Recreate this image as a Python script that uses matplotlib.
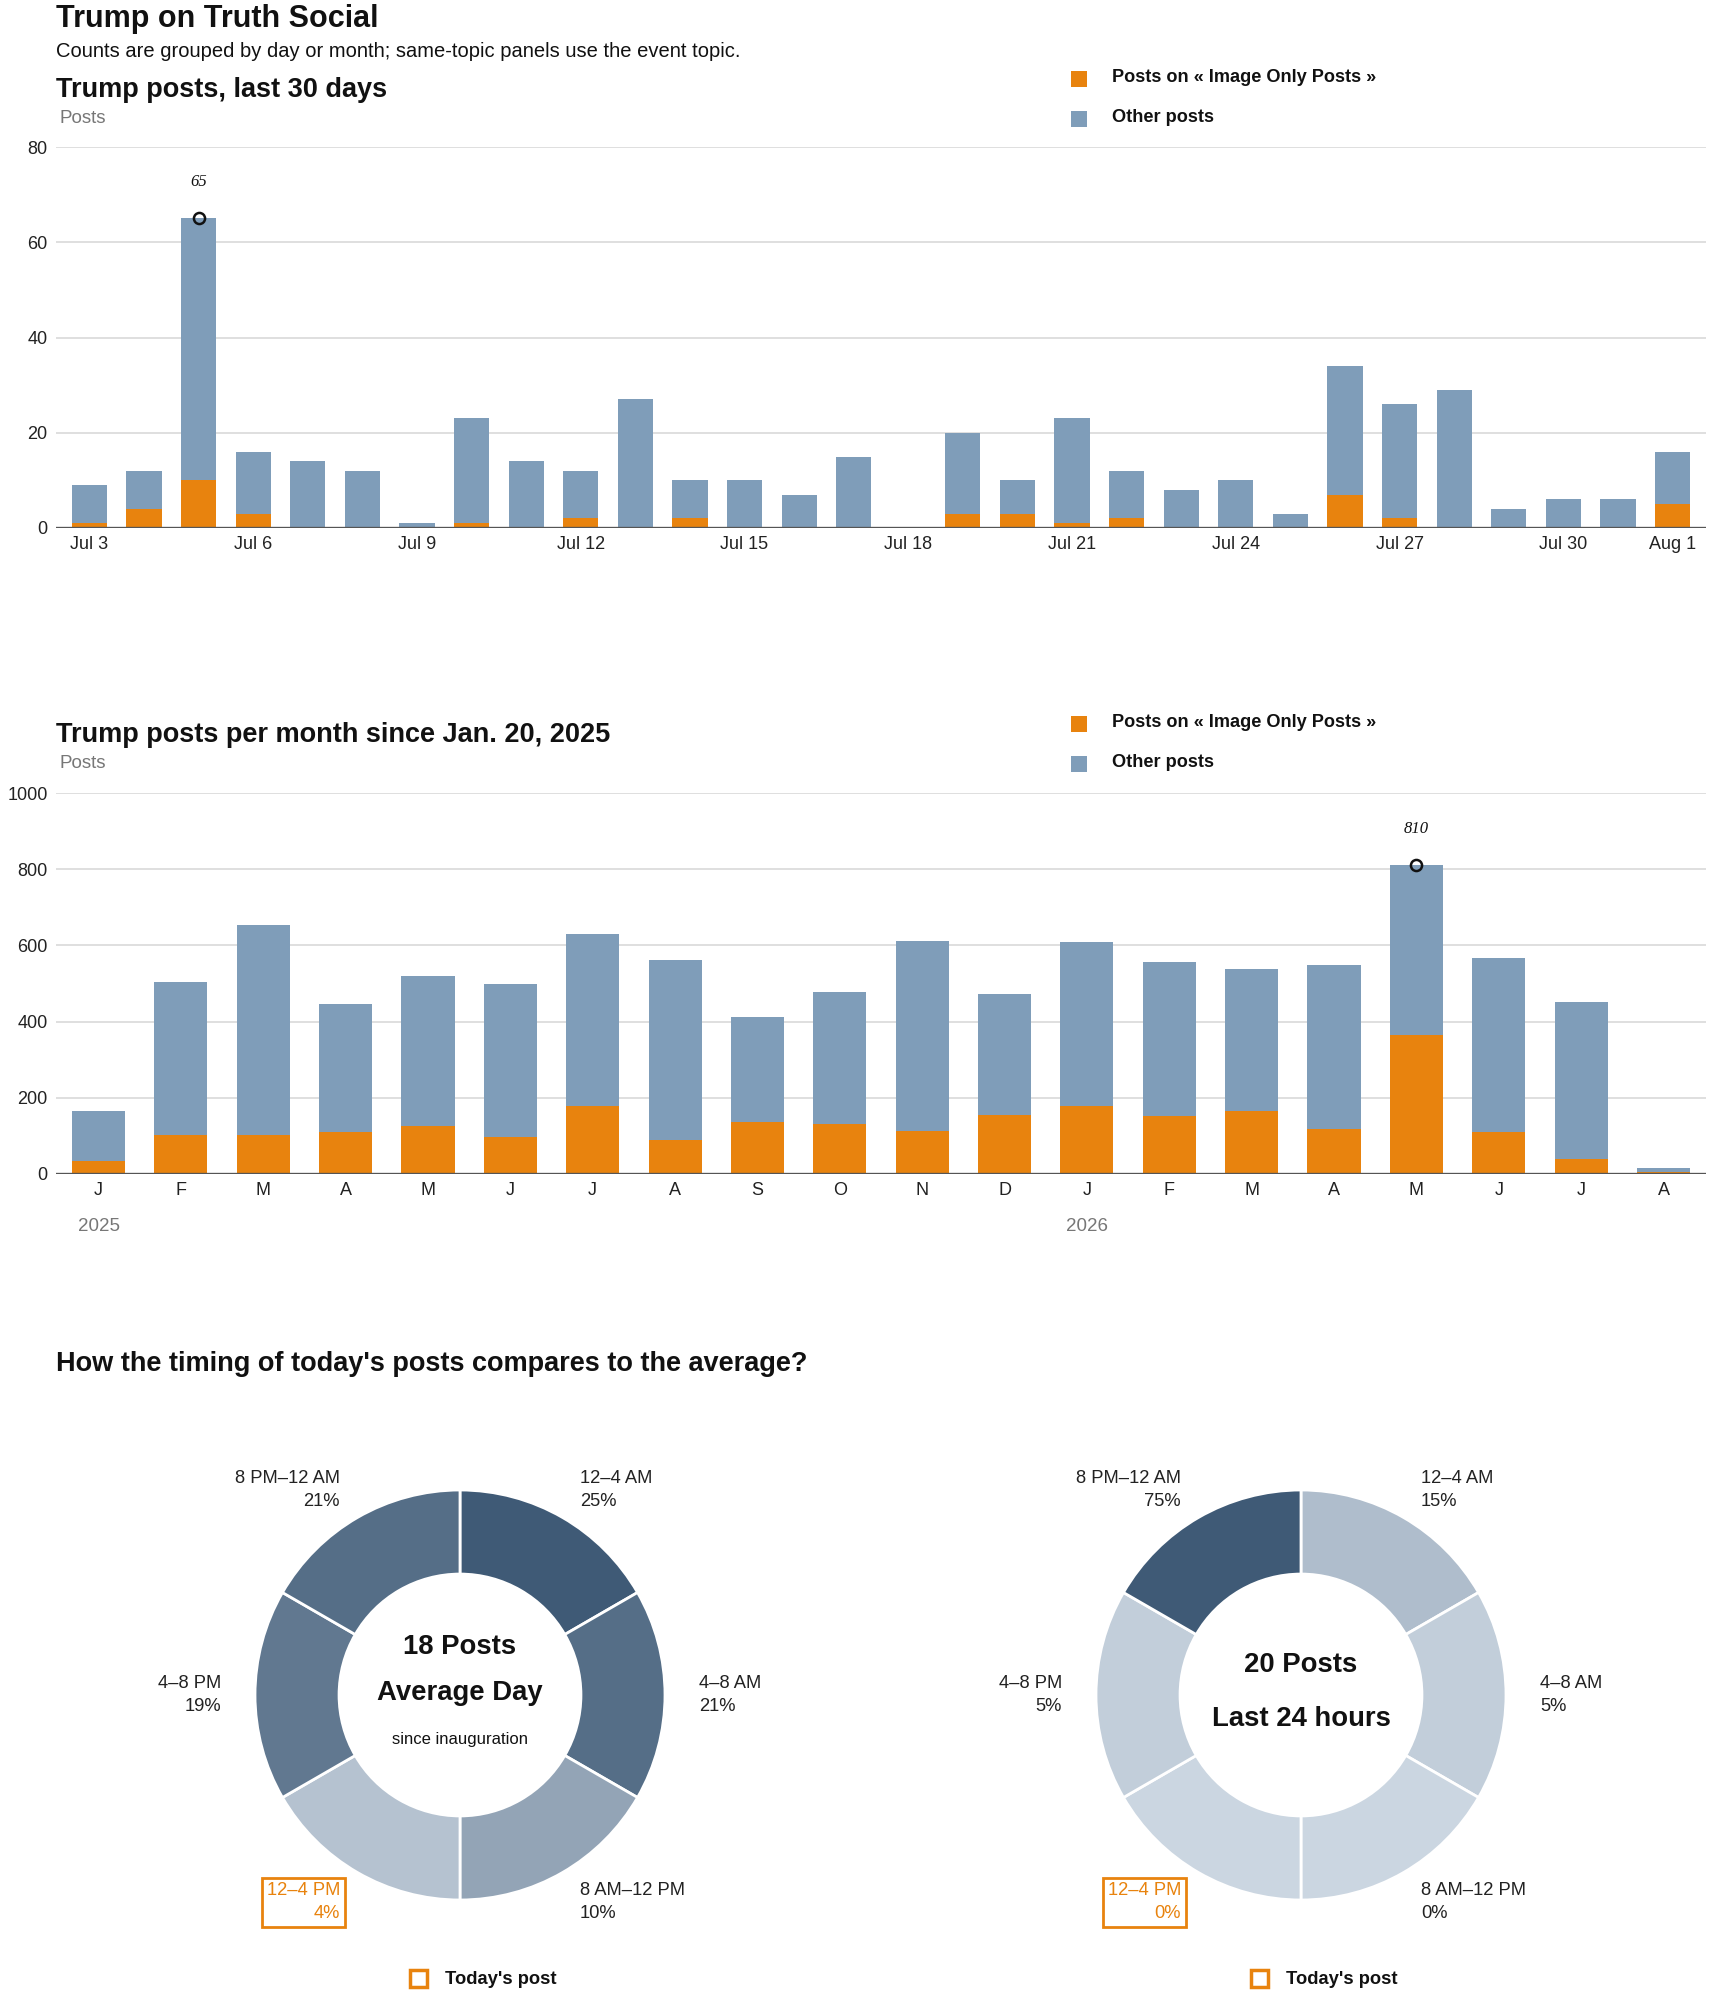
import numpy as np
import pandas as pd
import matplotlib
matplotlib.use('Agg')
import matplotlib.pyplot as plt
from matplotlib.patches import Rectangle
from matplotlib.colors import to_rgb

# ---- data ----
days = pd.date_range('2026-07-03', '2026-08-01', freq='D')
daily_total = [9, 12, 65, 16, 14, 12, 1, 23, 14, 12, 27, 10, 10, 7, 15,
               0, 20, 10, 23, 12, 8, 10, 3, 34, 26, 29, 4, 6, 6, 16]
daily_image = [1, 4, 10, 3, 0, 0, 0, 1, 0, 2, 0, 2, 0, 0, 0,
               0, 3, 3, 1, 2, 0, 0, 0, 7, 2, 0, 0, 0, 0, 5]

months = ['J', 'F', 'M', 'A', 'M', 'J', 'J', 'A', 'S', 'O', 'N', 'D',
          'J', 'F', 'M', 'A', 'M', 'J', 'J', 'A']
years = {0: '2025', 12: '2026'}
monthly_total = [165, 504, 654, 447, 520, 500, 631, 562, 412, 478, 612, 473,
                 608, 557, 539, 549, 810, 568, 452, 16]
monthly_image = [33, 103, 103, 110, 126, 96, 178, 89, 136, 131, 113, 156,
                 178, 152, 165, 118, 366, 111, 39, 4]

slots = ['12–4 AM', '4–8 AM', '8 AM–12 PM', '12–4 PM', '4–8 PM', '8 PM–12 AM']
avg_pct = [25, 21, 10, 4, 19, 21]
today_pct = [15, 5, 0, 0, 5, 75]
today_slot = '12–4 PM'

topic = 'Image Only Posts'

# ---- style ----
ORANGE = '#e8830e'
BLUE = '#7f9db9'
GRID = '#dcdcdc'
DARK = '#111111'
GRAY = '#777777'
HEAD = 19.5
plt.rcParams['font.family'] = ['Liberation Sans', 'DejaVu Sans']

W, H = 1710, 1993
fig = plt.figure(figsize=(W / 100, H / 100), dpi=100)


def box(x0, y0, x1, y1):
    return [x0 / W, 1 - y1 / H, (x1 - x0) / W, (y1 - y0) / H]


def ftext(x, y, s, **kw):
    return fig.text(x / W, 1 - y / H, s, **kw)


def square(x, y, size, **kw):
    fig.add_artist(Rectangle((x / W, 1 - (y + size) / H), size / W, size / H,
                             transform=fig.transFigure, **kw))


def legend(y):
    square(1071, y, 16, color=ORANGE, lw=0)
    ftext(1112, y + 11, f'Posts on « {topic} »', fontsize=13.1, weight='bold',
          color=DARK, va='baseline')
    square(1071, y + 40, 16, color=BLUE, lw=0)
    ftext(1112, y + 51, 'Other posts', fontsize=13.1, weight='bold',
          color=DARK, va='baseline')


def stacked(ax, total, image, ylim, yticks):
    total = np.array(total)
    image = np.array(image)
    x = np.arange(len(total))
    ax.bar(x, image, width=0.645, color=ORANGE, zorder=2)
    ax.bar(x, total - image, bottom=image, width=0.645, color=BLUE, zorder=2)
    ax.set_ylim(0, ylim)
    ax.set_yticks(yticks)
    ax.yaxis.grid(True, color=GRID, lw=1.3, zorder=0)
    ax.set_axisbelow(True)
    for s in ax.spines.values():
        s.set_visible(False)
    ax.axhline(0, color='#555555', lw=2.4, zorder=3)
    ax.tick_params(length=0, labelsize=13, labelcolor='#222222')
    ax.tick_params(axis='y', pad=6)
    ax.tick_params(axis='x', pad=6)
    k = int(np.argmax(total))
    ax.plot(k, total[k], 'o', mfc='none', mec=DARK, ms=8, mew=1.8, zorder=4,
            clip_on=False)
    ax.annotate(str(total[k]), (k, total[k]), xytext=(0, 26),
                textcoords='offset points', ha='center', va='center',
                family='Liberation Serif', style='italic', fontsize=12,
                color=DARK)


# ---- header ----
ftext(56, 27, 'Trump on Truth Social', fontsize=22, weight='bold', color=DARK,
      va='baseline')
ftext(56, 57, 'Counts are grouped by day or month; same-topic panels use the event topic.',
      fontsize=14.5, color=DARK, va='baseline')

# ---- daily panel ----
ftext(56, 97, 'Trump posts, last 30 days', fontsize=HEAD, weight='bold',
      color=DARK, va='baseline')
ftext(59, 123, 'Posts', fontsize=13.5, color=GRAY, va='baseline')
legend(71)
ax1 = fig.add_axes(box(56, 147, 1706, 528))
stacked(ax1, daily_total, daily_image, 80, [0, 20, 40, 60, 80])
ax1.set_xlim(-0.614, len(days) - 1 + 0.614)
ticks = list(range(0, len(days), 3))
if ticks[-1] != len(days) - 1:
    ticks.append(len(days) - 1)
ax1.set_xticks(ticks)
ax1.set_xticklabels([days[i].strftime('%b ') + str(days[i].day) for i in ticks])

# ---- monthly panel ----
ftext(56, 742, 'Trump posts per month since Jan. 20, 2025', fontsize=HEAD,
      weight='bold', color=DARK, va='baseline')
ftext(59, 768, 'Posts', fontsize=13.5, color=GRAY, va='baseline')
legend(716)
ax2 = fig.add_axes(box(56, 793, 1706, 1174))
stacked(ax2, monthly_total, monthly_image, 1000, [0, 200, 400, 600, 800, 1000])
ax2.set_xlim(-0.516, len(months) - 1 + 0.516)
ax2.set_xticks(range(len(months)))
ax2.set_xticklabels(months)
for i, yr in years.items():
    ax2.annotate(yr, (i, 0), xytext=(0, -38), textcoords='offset points',
                 ha='center', va='center', fontsize=13.5, color=GRAY)

# ---- timing donuts ----
ftext(56, 1371, "How the timing of today's posts compares to the average?",
      fontsize=HEAD, weight='bold', color=DARK, va='baseline')

LIGHT = np.array(to_rgb('#cbd6e1'))
DEEP = np.array(to_rgb('#3f5a76'))
label_pos = [(0.585, 1.0), (1.166, 0.0), (0.585, -1.01),
             (-0.585, -1.01), (-1.166, 0.0), (-0.585, 1.0)]


def donut(cx, pct, center_lines):
    ax = fig.add_axes(box(cx - 205, 1490, cx + 205, 1900))
    top = max(pct)
    cols = [tuple(LIGHT + (DEEP - LIGHT) * p / top) for p in pct]
    ax.pie([1] * len(pct), colors=cols, startangle=90, counterclock=False,
           radius=1, wedgeprops=dict(width=0.41, edgecolor='white', linewidth=2))
    ax.set_xlim(-1, 1)
    ax.set_ylim(-1, 1)
    ax.set_aspect('equal')
    ax.axis('off')
    for name, p, (lx, ly) in zip(slots, pct, label_pos):
        ha = 'left' if lx > 0 else 'right'
        kw = dict(ha=ha, va='center', multialignment=ha, fontsize=13.2,
                  linespacing=1.45, color='#222222', clip_on=False)
        if name == today_slot:
            kw['color'] = ORANGE
            kw['bbox'] = dict(boxstyle='square,pad=0.25', fc='none',
                              ec=ORANGE, lw=2)
        ax.text(lx, ly, f'{name}\n{p}%', **kw)
    for s, y, size, wt in center_lines:
        ax.text(0, y, s, ha='center', va='center', fontsize=size, weight=wt,
                color=DARK)
    square(cx - 50, 1970, 17, fc='white', ec=ORANGE, lw=2.5)
    ftext(cx - 15, 1979, "Today's post", fontsize=13.2, weight='bold',
          color=DARK, va='center')


donut(460, avg_pct, [('18 Posts', 0.234, 19.8, 'bold'),
                     ('Average Day', 0.01, 19.8, 'bold'),
                     ('since inauguration', -0.215, 12, 'normal')])
donut(1301, today_pct, [('20 Posts', 0.146, 19.8, 'bold'),
                        ('Last 24 hours', -0.117, 19.8, 'bold')])

fig.savefig('out.png', dpi=100)
